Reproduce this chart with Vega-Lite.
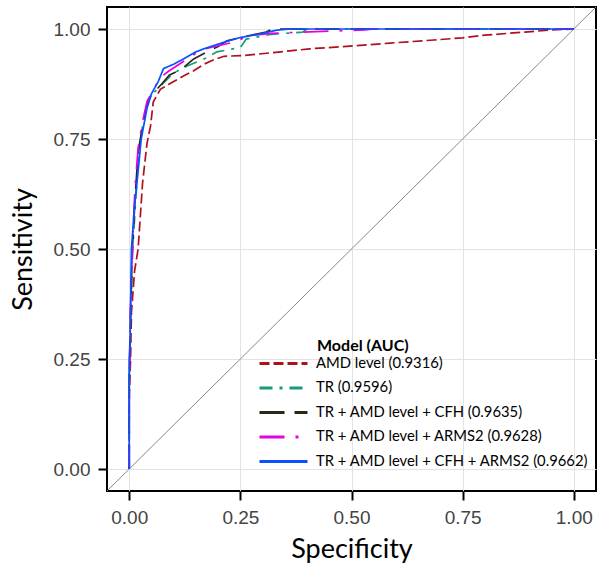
{
  "$schema": "https://vega.github.io/schema/vega-lite/v6.json",
  "width": 489,
  "height": 484,
  "autosize": "none",
  "padding": {"left": 107, "top": 7, "right": 5, "bottom": 84},
  "background": "white",
  "config": {
    "view": {"stroke": "black", "strokeWidth": 2},
    "axis": {
      "domain": false,
      "grid": true,
      "gridColor": "#e3e3e3",
      "gridWidth": 1,
      "tickColor": "black",
      "tickWidth": 2,
      "tickSize": 9,
      "labelFont": "Liberation Sans",
      "labelFontSize": 19,
      "labelColor": "#444444",
      "labelPadding": 8,
      "titleFont": "Lato",
      "titleFontSize": 27,
      "titleFontWeight": "normal",
      "titleColor": "black"
    },
    "legend": {
      "orient": "none",
      "legendX": 160,
      "legendY": 331,
      "titleFont": "Lato",
      "titleFontSize": 16,
      "titleFontWeight": "bold",
      "titleColor": "black",
      "titlePadding": -7,
      "labelFont": "Lato",
      "labelFontSize": 14.8,
      "labelColor": "black",
      "labelOffset": 16,
      "symbolType": "M-1.6,0H1.6",
      "symbolSize": 900,
      "symbolStrokeWidth": 3,
      "rowPadding": 0.5,
      "labelLimit": 400
    }
  },
  "layer": [
    {
      "data": {"values": [{"x": -0.05, "y": -0.05}, {"x": 1.05, "y": 1.05}]},
      "mark": {"type": "line", "color": "#888888", "strokeWidth": 1, "clip": true},
      "encoding": {
        "x": {"field": "x", "type": "quantitative"},
        "y": {"field": "y", "type": "quantitative"}
      }
    },
    {
      "data": {"values": [
        {"model": "AMD level (0.9316)", "x": 0, "y": 0},
        {"model": "AMD level (0.9316)", "x": 0, "y": 0.16},
        {"model": "AMD level (0.9316)", "x": 0.003, "y": 0.25},
        {"model": "AMD level (0.9316)", "x": 0.005, "y": 0.355},
        {"model": "AMD level (0.9316)", "x": 0.012, "y": 0.45},
        {"model": "AMD level (0.9316)", "x": 0.02, "y": 0.5},
        {"model": "AMD level (0.9316)", "x": 0.03, "y": 0.65},
        {"model": "AMD level (0.9316)", "x": 0.04, "y": 0.74},
        {"model": "AMD level (0.9316)", "x": 0.048, "y": 0.78},
        {"model": "AMD level (0.9316)", "x": 0.054, "y": 0.834},
        {"model": "AMD level (0.9316)", "x": 0.07, "y": 0.863},
        {"model": "AMD level (0.9316)", "x": 0.09, "y": 0.875},
        {"model": "AMD level (0.9316)", "x": 0.122, "y": 0.893},
        {"model": "AMD level (0.9316)", "x": 0.145, "y": 0.905},
        {"model": "AMD level (0.9316)", "x": 0.168, "y": 0.92},
        {"model": "AMD level (0.9316)", "x": 0.19, "y": 0.93},
        {"model": "AMD level (0.9316)", "x": 0.213, "y": 0.938},
        {"model": "AMD level (0.9316)", "x": 0.26, "y": 0.94},
        {"model": "AMD level (0.9316)", "x": 0.33, "y": 0.947},
        {"model": "AMD level (0.9316)", "x": 0.406, "y": 0.955},
        {"model": "AMD level (0.9316)", "x": 0.497, "y": 0.961},
        {"model": "AMD level (0.9316)", "x": 0.587, "y": 0.968},
        {"model": "AMD level (0.9316)", "x": 0.685, "y": 0.975},
        {"model": "AMD level (0.9316)", "x": 0.75, "y": 0.98},
        {"model": "AMD level (0.9316)", "x": 0.8, "y": 0.986},
        {"model": "AMD level (0.9316)", "x": 0.89, "y": 0.993},
        {"model": "AMD level (0.9316)", "x": 0.95, "y": 0.998},
        {"model": "AMD level (0.9316)", "x": 1, "y": 1},

        {"model": "TR (0.9596)", "x": 0, "y": 0},
        {"model": "TR (0.9596)", "x": 0, "y": 0.2},
        {"model": "TR (0.9596)", "x": 0.003, "y": 0.35},
        {"model": "TR (0.9596)", "x": 0.008, "y": 0.5},
        {"model": "TR (0.9596)", "x": 0.015, "y": 0.62},
        {"model": "TR (0.9596)", "x": 0.022, "y": 0.72},
        {"model": "TR (0.9596)", "x": 0.03, "y": 0.78},
        {"model": "TR (0.9596)", "x": 0.04, "y": 0.83},
        {"model": "TR (0.9596)", "x": 0.05, "y": 0.85},
        {"model": "TR (0.9596)", "x": 0.07, "y": 0.87},
        {"model": "TR (0.9596)", "x": 0.1, "y": 0.9},
        {"model": "TR (0.9596)", "x": 0.13, "y": 0.916},
        {"model": "TR (0.9596)", "x": 0.152, "y": 0.925},
        {"model": "TR (0.9596)", "x": 0.175, "y": 0.935},
        {"model": "TR (0.9596)", "x": 0.197, "y": 0.948},
        {"model": "TR (0.9596)", "x": 0.25, "y": 0.958},
        {"model": "TR (0.9596)", "x": 0.263, "y": 0.977},
        {"model": "TR (0.9596)", "x": 0.32, "y": 0.988},
        {"model": "TR (0.9596)", "x": 0.39, "y": 0.993},
        {"model": "TR (0.9596)", "x": 0.4, "y": 1},
        {"model": "TR (0.9596)", "x": 1, "y": 1},

        {"model": "TR + AMD level + CFH (0.9635)", "x": 0, "y": 0},
        {"model": "TR + AMD level + CFH (0.9635)", "x": 0, "y": 0.2},
        {"model": "TR + AMD level + CFH (0.9635)", "x": 0.003, "y": 0.35},
        {"model": "TR + AMD level + CFH (0.9635)", "x": 0.007, "y": 0.5},
        {"model": "TR + AMD level + CFH (0.9635)", "x": 0.014, "y": 0.63},
        {"model": "TR + AMD level + CFH (0.9635)", "x": 0.02, "y": 0.72},
        {"model": "TR + AMD level + CFH (0.9635)", "x": 0.03, "y": 0.78},
        {"model": "TR + AMD level + CFH (0.9635)", "x": 0.04, "y": 0.83},
        {"model": "TR + AMD level + CFH (0.9635)", "x": 0.05, "y": 0.85},
        {"model": "TR + AMD level + CFH (0.9635)", "x": 0.073, "y": 0.875},
        {"model": "TR + AMD level + CFH (0.9635)", "x": 0.09, "y": 0.895},
        {"model": "TR + AMD level + CFH (0.9635)", "x": 0.118, "y": 0.909},
        {"model": "TR + AMD level + CFH (0.9635)", "x": 0.145, "y": 0.932},
        {"model": "TR + AMD level + CFH (0.9635)", "x": 0.175, "y": 0.948},
        {"model": "TR + AMD level + CFH (0.9635)", "x": 0.2, "y": 0.96},
        {"model": "TR + AMD level + CFH (0.9635)", "x": 0.22, "y": 0.973},
        {"model": "TR + AMD level + CFH (0.9635)", "x": 0.247, "y": 0.98},
        {"model": "TR + AMD level + CFH (0.9635)", "x": 0.308, "y": 0.993},
        {"model": "TR + AMD level + CFH (0.9635)", "x": 0.322, "y": 1},
        {"model": "TR + AMD level + CFH (0.9635)", "x": 1, "y": 1},

        {"model": "TR + AMD level + ARMS2 (0.9628)", "x": 0, "y": 0},
        {"model": "TR + AMD level + ARMS2 (0.9628)", "x": 0, "y": 0.22},
        {"model": "TR + AMD level + ARMS2 (0.9628)", "x": 0.003, "y": 0.37},
        {"model": "TR + AMD level + ARMS2 (0.9628)", "x": 0.007, "y": 0.5},
        {"model": "TR + AMD level + ARMS2 (0.9628)", "x": 0.013, "y": 0.64},
        {"model": "TR + AMD level + ARMS2 (0.9628)", "x": 0.02, "y": 0.73},
        {"model": "TR + AMD level + ARMS2 (0.9628)", "x": 0.03, "y": 0.79},
        {"model": "TR + AMD level + ARMS2 (0.9628)", "x": 0.04, "y": 0.835},
        {"model": "TR + AMD level + ARMS2 (0.9628)", "x": 0.05, "y": 0.855},
        {"model": "TR + AMD level + ARMS2 (0.9628)", "x": 0.07, "y": 0.89},
        {"model": "TR + AMD level + ARMS2 (0.9628)", "x": 0.09, "y": 0.905},
        {"model": "TR + AMD level + ARMS2 (0.9628)", "x": 0.12, "y": 0.925},
        {"model": "TR + AMD level + ARMS2 (0.9628)", "x": 0.15, "y": 0.945},
        {"model": "TR + AMD level + ARMS2 (0.9628)", "x": 0.17, "y": 0.955},
        {"model": "TR + AMD level + ARMS2 (0.9628)", "x": 0.2, "y": 0.962},
        {"model": "TR + AMD level + ARMS2 (0.9628)", "x": 0.235, "y": 0.97},
        {"model": "TR + AMD level + ARMS2 (0.9628)", "x": 0.27, "y": 0.985},
        {"model": "TR + AMD level + ARMS2 (0.9628)", "x": 0.32, "y": 0.99},
        {"model": "TR + AMD level + ARMS2 (0.9628)", "x": 0.39, "y": 0.993},
        {"model": "TR + AMD level + ARMS2 (0.9628)", "x": 0.53, "y": 0.998},
        {"model": "TR + AMD level + ARMS2 (0.9628)", "x": 0.55, "y": 1},
        {"model": "TR + AMD level + ARMS2 (0.9628)", "x": 1, "y": 1},

        {"model": "TR + AMD level + CFH + ARMS2 (0.9662)", "x": 0, "y": 0},
        {"model": "TR + AMD level + CFH + ARMS2 (0.9662)", "x": 0, "y": 0.22},
        {"model": "TR + AMD level + CFH + ARMS2 (0.9662)", "x": 0.002, "y": 0.3},
        {"model": "TR + AMD level + CFH + ARMS2 (0.9662)", "x": 0.005, "y": 0.5},
        {"model": "TR + AMD level + CFH + ARMS2 (0.9662)", "x": 0.012, "y": 0.6},
        {"model": "TR + AMD level + CFH + ARMS2 (0.9662)", "x": 0.016, "y": 0.636},
        {"model": "TR + AMD level + CFH + ARMS2 (0.9662)", "x": 0.027, "y": 0.75},
        {"model": "TR + AMD level + CFH + ARMS2 (0.9662)", "x": 0.04, "y": 0.82},
        {"model": "TR + AMD level + CFH + ARMS2 (0.9662)", "x": 0.05, "y": 0.853},
        {"model": "TR + AMD level + CFH + ARMS2 (0.9662)", "x": 0.065, "y": 0.88},
        {"model": "TR + AMD level + CFH + ARMS2 (0.9662)", "x": 0.077, "y": 0.91},
        {"model": "TR + AMD level + CFH + ARMS2 (0.9662)", "x": 0.1, "y": 0.92},
        {"model": "TR + AMD level + CFH + ARMS2 (0.9662)", "x": 0.122, "y": 0.932},
        {"model": "TR + AMD level + CFH + ARMS2 (0.9662)", "x": 0.15, "y": 0.948},
        {"model": "TR + AMD level + CFH + ARMS2 (0.9662)", "x": 0.168, "y": 0.955},
        {"model": "TR + AMD level + CFH + ARMS2 (0.9662)", "x": 0.213, "y": 0.97},
        {"model": "TR + AMD level + CFH + ARMS2 (0.9662)", "x": 0.247, "y": 0.98},
        {"model": "TR + AMD level + CFH + ARMS2 (0.9662)", "x": 0.3, "y": 0.99},
        {"model": "TR + AMD level + CFH + ARMS2 (0.9662)", "x": 0.33, "y": 0.997},
        {"model": "TR + AMD level + CFH + ARMS2 (0.9662)", "x": 0.36, "y": 1},
        {"model": "TR + AMD level + CFH + ARMS2 (0.9662)", "x": 1, "y": 1}
      ]},
      "mark": {"type": "line", "strokeWidth": 1.7, "clip": true},
      "encoding": {
        "x": {
          "field": "x", "type": "quantitative", "title": "Specificity",
          "scale": {"domain": [-0.05, 1.05], "nice": false, "zero": false},
          "axis": {"values": [0, 0.25, 0.5, 0.75, 1], "format": ".2f", "titlePadding": 9}
        },
        "y": {
          "field": "y", "type": "quantitative", "title": "Sensitivity",
          "scale": {"domain": [-0.05, 1.05], "nice": false, "zero": false},
          "axis": {"values": [0, 0.25, 0.5, 0.75, 1], "format": ".2f", "titlePadding": 16}
        },
        "color": {
          "field": "model", "type": "nominal",
          "scale": {
            "domain": ["AMD level (0.9316)", "TR (0.9596)", "TR + AMD level + CFH (0.9635)", "TR + AMD level + ARMS2 (0.9628)", "TR + AMD level + CFH + ARMS2 (0.9662)"],
            "range": ["#b0101e", "#169c78", "#2a2a14", "#e600e6", "#0a50ff"]
          },
          "legend": {"title": "Model (AUC)", "encode": {"title": {"update": {"dx": {"value": 50}}}}}
        },
        "strokeDash": {
          "field": "model", "type": "nominal",
          "scale": {
            "domain": ["AMD level (0.9316)", "TR (0.9596)", "TR + AMD level + CFH (0.9635)", "TR + AMD level + ARMS2 (0.9628)", "TR + AMD level + CFH + ARMS2 (0.9662)"],
            "range": [[10, 4], [13, 7, 3, 7], [25, 10], [25, 11, 3, 11], [1, 0]]
          },
          "legend": {"title": "Model (AUC)", "encode": {"title": {"update": {"dx": {"value": 50}}}}}
        }
      }
    }
  ]
}
